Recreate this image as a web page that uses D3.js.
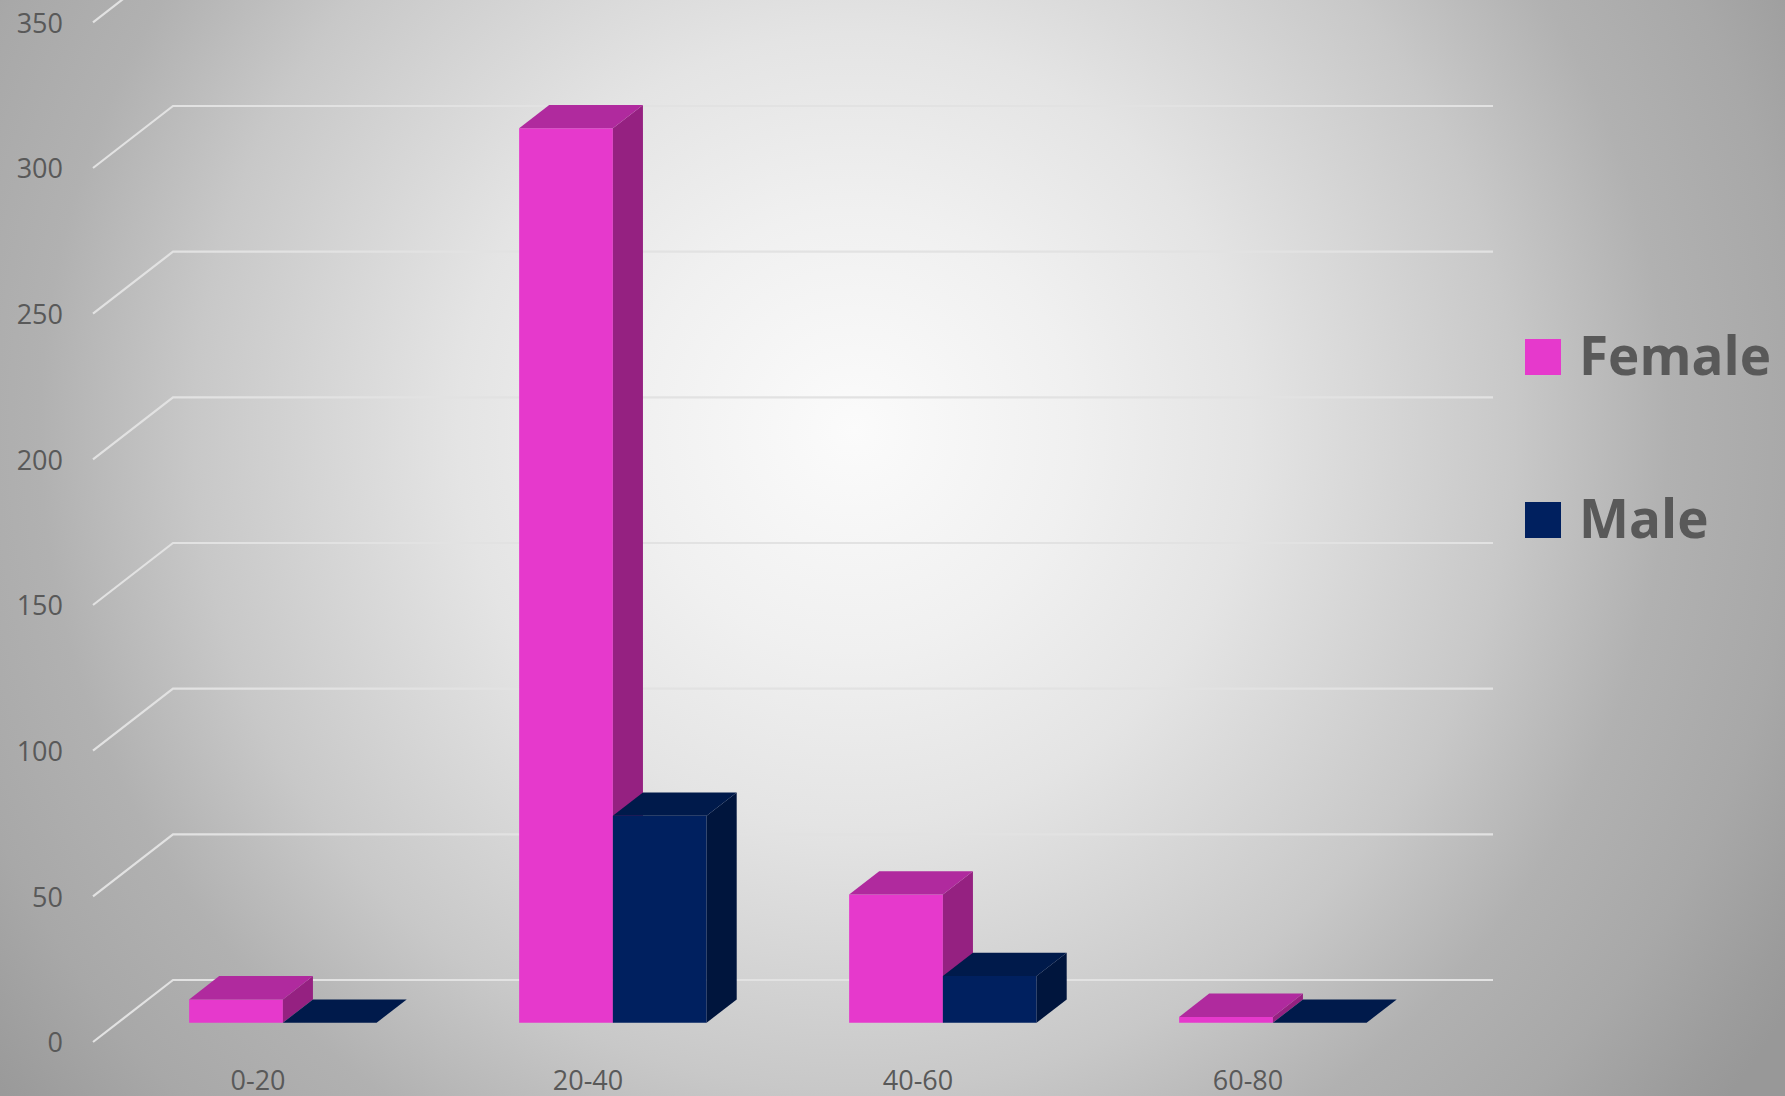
<!DOCTYPE html>
<html>
<head>
<meta charset="utf-8">
<script src="https://cdn.jsdelivr.net/npm/d3@7"></script>
<style>
  html, body { margin: 0; padding: 0; background: #bdbdbd; }
  svg { display: block; }
</style>
</head>
<body>
<svg id="chart" width="1785" height="1096"></svg>
<script>
// Age groups and counts per gender
const categories = ["0-20", "20-40", "40-60", "60-80"];
const seriesNames = ["Female", "Male"];
const femaleValues = [8, 307, 44, 2];
const maleValues = [0, 71, 16, 0];
const yTicks = [0, 50, 100, 150, 200, 250, 300, 350];

const W = 1785, H = 1096;
const svg = d3.select("#chart");

// Oblique 3D projection: the floor recedes up and to the right
const depthDX = 80, depthDY = -62;
const barFront = 0.311, barBack = 0.687; // bar depth as fractions of floor depth

const x0 = d3.scaleBand().domain(categories).range([93, 1413]).paddingInner(0).paddingOuter(0);
const x1 = d3.scaleBand().domain(seriesNames).range([0, x0.bandwidth()]).paddingInner(0).paddingOuter(0.76);
const y = d3.scaleLinear().domain([0, 350]).range([1042, 1042 - 350 * (874 / 300)]);

const wallTop = 300; // back wall reaches the 300 line
const proj = (px, py, f) => [px + depthDX * f, py + depthDY * f];

// Background: soft radial glow
const defs = svg.append("defs");
const bg = defs.append("radialGradient").attr("id", "bg")
  .attr("gradientUnits", "userSpaceOnUse")
  .attr("cx", 854).attr("cy", 430).attr("r", 1100);
[[0, "#fbfbfb"], [0.2, "#f0f0f0"], [0.36, "#e4e4e4"], [0.6, "#c8c8c8"], [0.74, "#b1b1b1"],
 [0.86, "#a8a8a8"], [0.96, "#9c9c9c"], [1, "#989898"]].forEach(([o, c]) =>
  bg.append("stop").attr("offset", o).attr("stop-color", c));
svg.append("rect").attr("width", W).attr("height", H).attr("fill", "url(#bg)");

// Gridlines: left side wall diagonals plus back wall horizontals
const grid = svg.append("g").attr("fill", "none").attr("stroke", "#e2e2e2").attr("stroke-width", 2.2);
const xLeft = x0.range()[0], xRight = x0.range()[1];
yTicks.forEach(t => {
  const pts = [[xLeft, y(t)], proj(xLeft, y(t), 1)];
  if (t <= wallTop) pts.push(proj(xRight, y(t), 1));
  grid.append("path").attr("d", d3.line()(pts));
});

// Y axis labels
const yAxis = d3.axisLeft(y).tickValues(yTicks).tickSize(0).tickPadding(0);
const yg = svg.append("g").attr("transform", "translate(63,0)").call(yAxis);
yg.select(".domain").remove();
yg.selectAll("text")
  .attr("font-family", "'Open Sans', sans-serif").attr("font-size", 27)
  .attr("fill", "#595959").attr("dy", "0.36em");

// X axis labels, centred on the front of each band
const xAxis = d3.axisBottom(x0).tickSize(0).tickPadding(0);
const xg = svg.append("g").attr("transform", "translate(0,1071)").call(xAxis);
xg.select(".domain").remove();
xg.selectAll("text")
  .attr("font-family", "'Open Sans', sans-serif").attr("font-size", 27)
  .attr("fill", "#595959").attr("dy", "0.71em");

// Bar colours: front, top, side
const palette = {
  Female: { front: "#e639cc", top: "#b02a9e", side: "#952181" },
  Male:   { front: "#00205f", top: "#001a4b", side: "#00153d" }
};
const valuesBySeries = { Female: femaleValues, Male: maleValues };

const bars = svg.append("g");
categories.forEach((cat, i) => {
  seriesNames.forEach(s => {
    const v = valuesBySeries[s][i];
    const xl = x0(cat) + x1(s);
    const xr = xl + x1.bandwidth();
    const y0 = y(0), yv = y(v);
    const c = palette[s];
    const a = proj(xl, yv, barFront), b = proj(xr, yv, barFront);
    const c0 = proj(xr, y0, barFront);
    const d = proj(xl, y0, barFront);
    const aB = proj(xl, yv, barBack), bB = proj(xr, yv, barBack);
    const c0B = proj(xr, y0, barBack);
    const g = bars.append("g");
    // front face
    g.append("path").attr("d", d3.line()([a, b, c0, d]) + "Z").attr("fill", c.front);
    // right side
    g.append("path").attr("d", d3.line()([b, bB, c0B, c0]) + "Z").attr("fill", c.side);
    // top
    g.append("path").attr("d", d3.line()([a, aB, bB, b]) + "Z").attr("fill", c.top);
  });
});

// Legend
const legend = svg.append("g");
const legendRows = [{ name: "Female", y: 339 }, { name: "Male", y: 502 }];
legendRows.forEach(r => {
  legend.append("rect").attr("x", 1525).attr("y", r.y).attr("width", 36).attr("height", 36)
    .attr("fill", palette[r.name].front);
  legend.append("text").attr("x", 1579).attr("y", r.y + 36)
    .attr("font-family", "'Open Sans', sans-serif").attr("font-weight", 700)
    .attr("font-size", 53).attr("fill", "#595959").text(r.name);
});
</script>
</body>
</html>
